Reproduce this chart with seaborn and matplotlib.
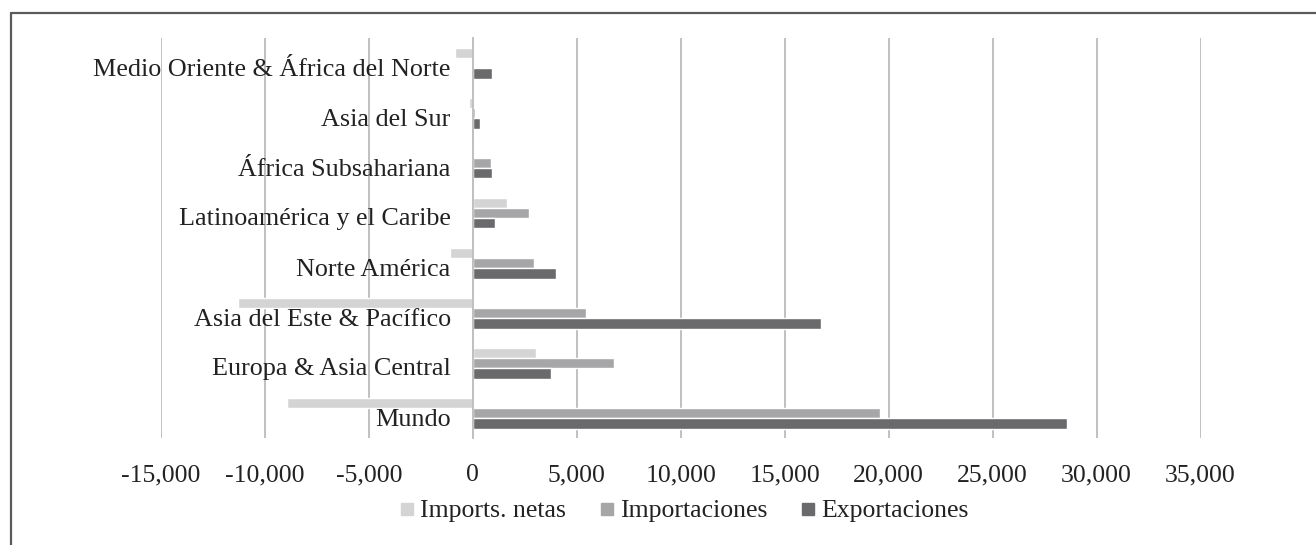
import matplotlib
matplotlib.use("Agg")
import matplotlib.pyplot as plt
from matplotlib.lines import Line2D
from matplotlib.transforms import ScaledTranslation
import seaborn as sns
import pandas as pd

# Regional trade figures (same units as the value axis)
regiones = [
    "Medio Oriente & África del Norte",
    "Asia del Sur",
    "África Subsahariana",
    "Latinoamérica y el Caribe",
    "Norte América",
    "Asia del Este & Pacífico",
    "Europa & Asia Central",
    "Mundo",
]
imports_netas = [-850, -210, -35, 1660, -1090, -11310, 3020, -8950]
importaciones = [65, 110, 880, 2700, 2920, 5420, 6790, 19600]
exportaciones = [915, 320, 915, 1045, 4010, 16730, 3770, 28570]

series = ["Imports. netas", "Importaciones", "Exportaciones"]
colores = ["#d4d4d4", "#a6a6a8", "#6a6a6d"]
xticks = [-15000, -10000, -5000, 0, 5000, 10000, 15000, 20000, 25000, 30000, 35000]

df = pd.DataFrame({
    "region": regiones * 3,
    "serie": [series[0]] * 8 + [series[1]] * 8 + [series[2]] * 8,
    "valor": imports_netas + importaciones + exportaciones,
})

sns.set_theme(style="white")
plt.rcParams["font.family"] = ["Liberation Serif", "DejaVu Serif"]

W, H = 1316, 545
fig = plt.figure(figsize=(W / 100, H / 100), dpi=100)
ax = fig.add_axes([161 / W, 1 - 438 / H, (1200.6 - 161) / W, 400 / H])

sns.barplot(data=df, y="region", x="valor", hue="serie", order=regiones,
            hue_order=series, palette=colores, orient="h", width=0.62,
            saturation=1, ax=ax, legend=False)

ax.set_xlim(-15000, 35000)
ax.set_xticks(xticks)
ax.set_xticklabels([f"{v:,}" for v in xticks], fontsize=18.5, color="#222222")
ax.grid(axis="x", color="#c0c0c0", linewidth=1.4)
ax.grid(axis="y", visible=False)
ax.set_axisbelow(True)
ax.set_xlabel("")
ax.set_ylabel("")

for s in ["top", "right", "bottom"]:
    ax.spines[s].set_visible(False)
ax.spines["left"].set_position(("data", 0))
ax.spines["left"].set_color("#c0c0c0")
ax.spines["left"].set_linewidth(1.4)

ax.tick_params(axis="x", length=0, pad=19)
ax.tick_params(axis="y", length=0, pad=16, labelsize=18.8, labelcolor="#222222")

# category labels sit slightly below the band centre and above the bars
ax.yaxis.set_zorder(5)
shift = ScaledTranslation(0, -4 / 100, fig.dpi_scale_trans)
for lab in ax.get_yticklabels():
    lab.set_transform(lab.get_transform() + shift)

handles = [Line2D([], [], marker="s", linestyle="none", markersize=9,
                  markerfacecolor=c, markeredgecolor=c) for c in colores]
fig.legend(handles, series, loc="center", bbox_to_anchor=(684 / W, 1 - 511 / H),
           ncol=3, frameon=False, fontsize=18.5, handlelength=0.6,
           handletextpad=0.2, columnspacing=1.3, labelcolor="#222222")

# Outer frame (top and left edges)
frame_c = "#5a5a5a"
fig.add_artist(Line2D([10.5 / W, 1.0], [1 - 13 / H, 1 - 13 / H],
                      transform=fig.transFigure, color=frame_c, linewidth=1.6))
fig.add_artist(Line2D([10.5 / W, 10.5 / W], [0.0, 1 - 13 / H],
                      transform=fig.transFigure, color=frame_c, linewidth=1.6))

fig.savefig("out.png", dpi=100)
